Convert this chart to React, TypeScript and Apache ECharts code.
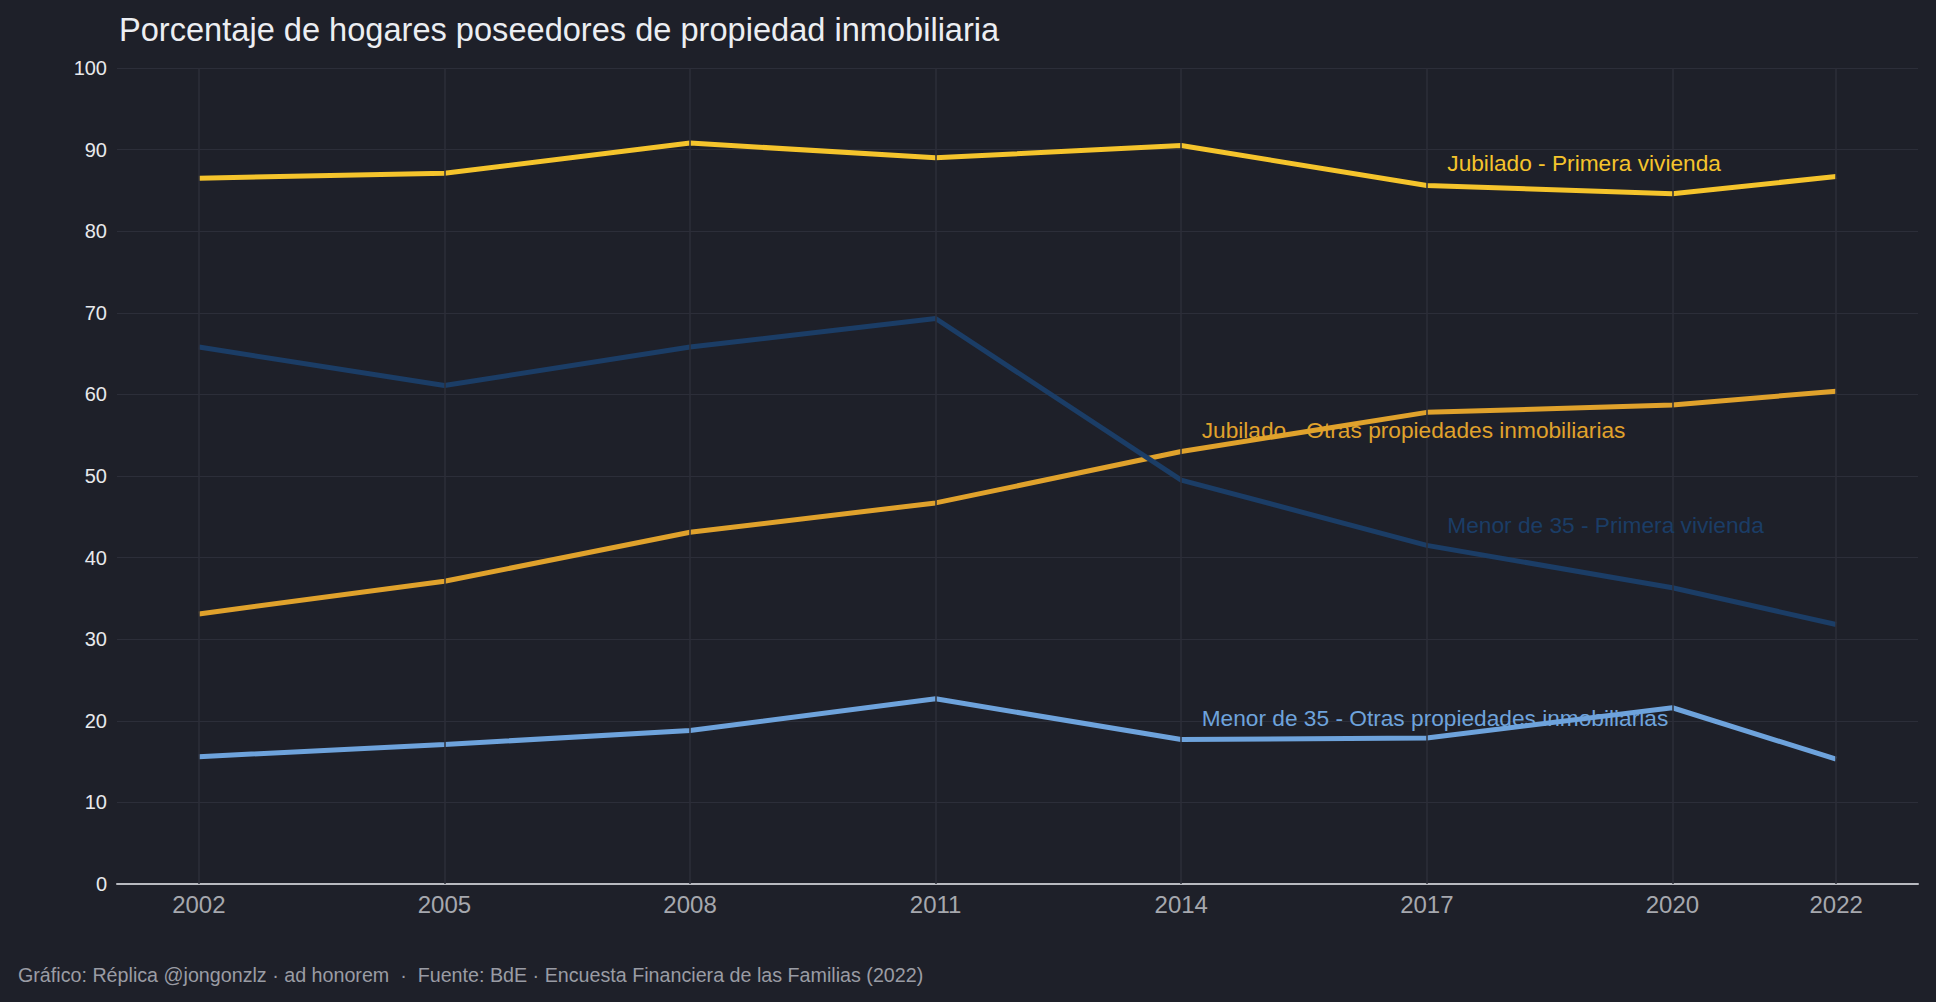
import React, { useEffect, useRef } from "react";
import * as echarts from "echarts";

const years = [2002, 2005, 2008, 2011, 2014, 2017, 2020, 2022];
const jubPrimera = [86.5, 87.1, 90.8, 89.0, 90.5, 85.6, 84.6, 86.7];
const jubOtras = [33.1, 37.1, 43.1, 46.7, 53.0, 57.8, 58.7, 60.4];
const menPrimera = [65.8, 61.1, 65.8, 69.3, 49.5, 41.5, 36.3, 31.8];
const menOtras = [15.6, 17.1, 18.8, 22.7, 17.7, 17.9, 21.6, 15.3];

const seriesNames = [
  "Jubilado - Primera vivienda",
  "Jubilado - Otras propiedades inmobiliarias",
  "Menor de 35 - Primera vivienda",
  "Menor de 35 - Otras propiedades inmobiliarias",
];
const seriesColors = ["#f5c42c", "#e0a22c", "#1b3d66", "#6ea3dc"];
const labelPos: [number, number][] = [
  [2017.25, 88.4],
  [2014.25, 55.6],
  [2017.25, 44.0],
  [2014.25, 20.4],
];

const FONT = "'Liberation Sans', Arial, Helvetica, sans-serif";
const GRID = "#2c2e39";

export default function App() {
  const ref = useRef<HTMLDivElement>(null);
  useEffect(() => {
    if (!ref.current) return;
    const chart = echarts.init(ref.current, undefined, { renderer: "svg" });
    const all = [jubPrimera, jubOtras, menPrimera, menOtras];
    const lineSeries = all.map((vals, i) => ({
      type: "line",
      name: seriesNames[i],
      data: years.map((y, j) => [y, vals[j]]),
      symbol: "none",
      lineStyle: { color: seriesColors[i], width: 5 },
      itemStyle: { color: seriesColors[i] },
      z: 3,
      markPoint: {
        symbol: "circle",
        symbolSize: 0,
        silent: true,
        data: [
          {
            coord: labelPos[i],
            label: {
              show: true,
              position: "inside",
              align: "left",
              verticalAlign: "middle",
              formatter: seriesNames[i],
              color: seriesColors[i],
              fontSize: 22.7,
              fontFamily: FONT,
            },
          },
        ],
      },
    }));
    chart.setOption({
      animation: false,
      backgroundColor: "#1e2029",
      textStyle: { fontFamily: FONT },
      title: {
        text: "Porcentaje de hogares poseedores de propiedad inmobiliaria",
        left: 114,
        top: 8,
        textStyle: { color: "#eceef2", fontSize: 32.6, fontWeight: "normal", fontFamily: FONT },
      },
      graphic: [
        {
          type: "text",
          left: 18,
          top: 965,
          style: {
            text: "Gráfico: Réplica @jongonzlz · ad honorem  ·  Fuente: BdE · Encuesta Financiera de las Familias (2022)",
            fill: "#9a9ca4",
            fontSize: 19.7,
            fontFamily: FONT,
          },
        },
      ],
      grid: { left: 117, right: 18, top: 68, bottom: 118 },
      xAxis: {
        type: "value",
        min: 2001,
        max: 2023,
        interval: 1,
        axisLine: { show: true, lineStyle: { color: "#b8bac0", width: 2 } },
        axisTick: { show: false },
        axisLabel: {
          color: "#a6a8ae",
          fontSize: 24,
          margin: 8,
          fontFamily: FONT,
          formatter: (v: number) => (years.includes(v) ? String(v) : ""),
        },
        splitLine: { show: false },
      },
      yAxis: {
        type: "value",
        min: 0,
        max: 100,
        interval: 10,
        axisLine: { show: false },
        axisTick: { show: false },
        axisLabel: { color: "#e8e9ec", fontSize: 20, margin: 10, fontFamily: FONT },
        splitLine: { show: true, lineStyle: { color: GRID, width: 1 } },
      },
      series: [
        {
          type: "line",
          name: "vgrid",
          data: [],
          z: 1,
          markLine: {
            silent: true,
            symbol: "none",
            label: { show: false },
            lineStyle: { color: GRID, width: 1.5, type: "solid" },
            data: years.map((y) => ({ xAxis: y })),
          },
        },
        ...lineSeries,
      ],
    });
    return () => chart.dispose();
  }, []);
  return <div ref={ref} style={{ width: 1936, height: 1002, position: "absolute", left: 0, top: 0 }} />;
}
